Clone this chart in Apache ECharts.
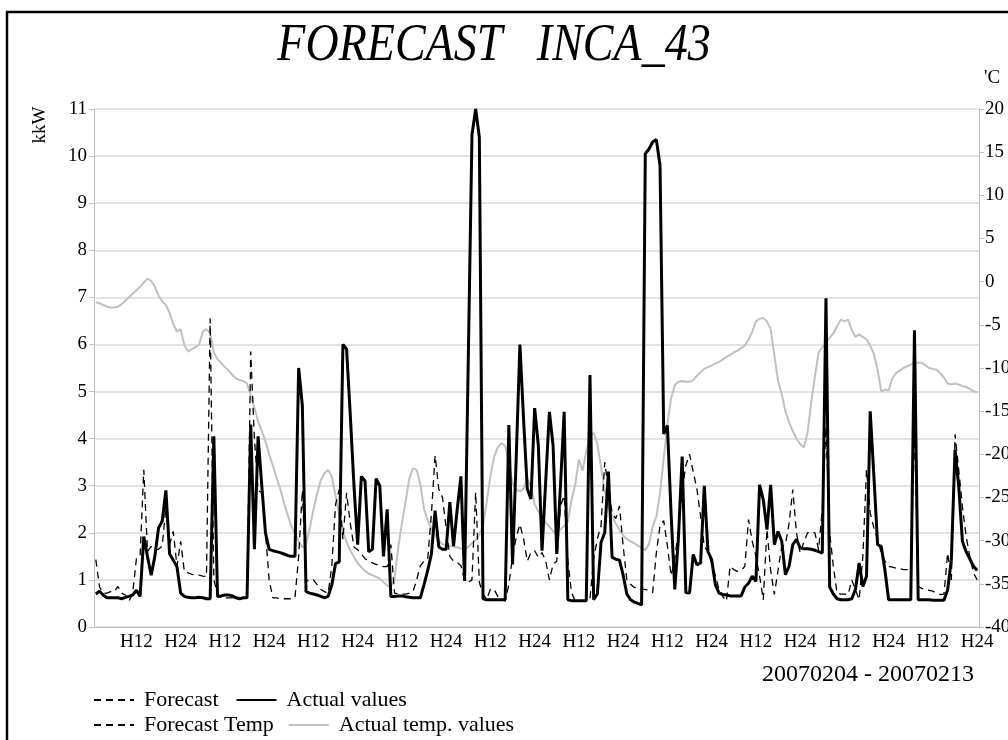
<!DOCTYPE html>
<html>
<head>
<meta charset="utf-8">
<script src="https://cdn.jsdelivr.net/npm/echarts@6/dist/echarts.min.js"></script>
<style>
html,body{margin:0;padding:0;background:#fff;overflow:hidden;}
#chart{width:1008px;height:740px;}
</style>
</head>
<body>
<div id="chart"></div>
<script>
// hourly categories, 10 days x 24 hours
const days = 10;
const categories = [];
for (let d = 0; d < days; d++) for (let h = 1; h <= 24; h++) categories.push('H' + h);

const titleText = 'FORECAST   INCA_43';
const dateRange = '20070204 - 20070213';
const leftAxisName = 'kkW';
const rightAxisName = "'C";
const seriesNames = ['Forecast', 'Actual values', 'Forecast Temp', 'Actual temp. values'];

// Actual values (kW), one row per day
const actualKW = [
  0.70,0.76,0.68,0.62,0.62,0.62,0.62,0.60,0.63,0.65,0.68,0.78,0.65,1.92,1.50,1.10,1.50,2.10,2.25,2.90,1.55,1.42,1.28,0.72,
  0.65,0.63,0.62,0.62,0.63,0.62,0.60,0.60,4.05,0.65,0.66,0.68,0.68,0.66,0.62,0.60,0.62,0.62,4.30,1.65,4.05,3.00,2.00,1.65,
  1.62,1.60,1.58,1.55,1.52,1.50,1.50,5.50,4.70,0.75,0.72,0.70,0.68,0.65,0.62,0.65,0.90,1.35,1.38,6.00,5.90,4.50,3.00,1.75,
  3.20,3.10,1.60,1.65,3.15,3.00,1.50,2.50,0.65,0.65,0.66,0.66,0.64,0.63,0.62,0.62,0.62,0.90,1.20,1.55,2.47,1.70,1.65,1.65,
  2.65,1.72,2.50,3.20,0.98,5.70,10.45,11.00,10.40,0.60,0.58,0.58,0.58,0.58,0.58,0.58,4.29,1.33,3.60,6.00,4.40,2.93,2.72,4.65,
  3.85,1.62,3.10,4.57,3.85,1.55,3.00,4.57,0.58,0.56,0.56,0.56,0.56,0.56,5.35,0.58,0.70,1.80,2.00,3.30,1.48,1.44,1.42,1.10,
  0.70,0.58,0.53,0.50,0.47,10.05,10.15,10.30,10.35,9.80,4.10,4.28,2.40,0.80,1.90,3.62,0.73,0.72,1.54,1.32,1.36,3.00,1.60,1.43,
  0.90,0.72,0.69,0.68,0.66,0.66,0.66,0.66,0.85,0.93,1.08,0.97,3.02,2.70,2.07,3.02,1.75,2.03,1.82,1.11,1.29,1.75,1.86,1.68,
  1.66,1.66,1.65,1.63,1.60,1.57,6.98,0.85,0.70,0.60,0.58,0.58,0.58,0.60,0.80,1.36,0.86,1.08,4.58,3.20,1.75,1.71,1.20,0.58,
  0.58,0.58,0.58,0.58,0.58,0.58,6.30,0.58,0.58,0.58,0.58,0.57,0.57,0.57,0.57,0.79,1.43,3.77,2.99,1.82,1.60,1.45,1.29,1.20
];

// Forecast (kW)
const forecastKW = [
  1.43,0.85,0.72,0.72,0.75,0.75,0.86,0.72,0.68,0.55,0.72,1.45,1.50,3.34,1.60,1.71,1.64,1.65,1.72,2.55,1.75,2.03,1.29,1.82,
  1.18,1.15,1.12,1.10,1.10,1.08,1.07,6.55,1.00,0.70,0.62,0.62,0.62,0.62,0.60,0.62,0.62,0.62,5.85,4.00,2.90,2.85,2.00,1.00,
  0.62,0.62,0.60,0.60,0.60,0.60,0.62,1.50,2.90,1.00,0.97,1.00,0.90,0.80,0.75,0.72,1.30,2.60,2.92,1.86,2.85,2.20,1.70,1.64,
  1.55,1.45,1.40,1.36,1.33,1.30,1.28,1.28,1.75,0.72,0.70,0.70,0.70,0.72,0.75,1.00,1.30,1.40,1.45,2.40,3.64,2.93,2.75,2.10,
  1.50,1.40,1.37,1.30,1.00,0.95,1.00,2.86,0.95,0.70,0.59,0.80,0.80,0.65,0.59,0.55,0.90,1.50,1.90,2.18,1.87,1.40,1.58,1.62,
  1.48,1.58,1.40,1.00,1.33,1.40,2.57,2.79,1.40,0.73,0.55,0.55,0.55,0.55,0.60,1.44,1.87,2.15,3.50,2.93,2.43,2.30,2.57,1.72,
  1.00,0.91,0.84,0.82,0.80,0.80,0.77,0.73,1.58,2.15,2.26,1.72,1.09,1.44,2.08,2.90,3.43,3.67,3.30,2.93,2.35,1.71,1.60,1.35,
  1.10,0.79,0.65,0.55,1.29,1.22,1.18,1.20,1.29,2.28,1.82,1.50,1.08,0.58,2.07,1.20,0.69,1.20,1.71,1.75,2.20,2.92,2.00,1.57,
  1.80,2.00,2.03,2.00,1.64,2.50,4.26,2.00,1.29,0.72,0.70,0.70,0.69,1.00,0.79,0.58,1.50,3.34,2.42,2.10,1.86,1.57,1.40,1.29,
  1.27,1.25,1.24,1.22,1.22,1.22,4.26,0.86,0.82,0.79,0.78,0.76,0.72,0.69,0.70,1.57,1.00,4.09,3.34,2.56,1.93,1.50,1.15,1.00
];

// Actual temperature ('C)
const actualTemp = [
  -2.4,-2.5,-2.7,-2.9,-3.0,-3.0,-2.9,-2.6,-2.2,-1.8,-1.4,-1.0,-0.6,-0.1,0.35,0.1,-0.6,-1.6,-2.3,-2.7,-3.6,-4.9,-5.8,-5.5,
  -7.4,-8.1,-7.8,-7.6,-7.3,-5.8,-5.5,-6.0,-8.2,-9.0,-9.4,-9.9,-10.3,-10.8,-11.2,-11.4,-11.5,-11.8,-13.2,-14.6,-16.2,-17.3,-18.5,-20.0,
  -21.3,-22.7,-24.0,-25.6,-27.0,-28.3,-29.2,-30.0,-30.8,-30.4,-28.6,-26.4,-24.6,-23.0,-22.2,-21.8,-22.6,-24.8,-27.0,-28.9,-30.2,-31.1,-31.9,-32.6,
  -33.1,-33.5,-33.8,-34.0,-34.2,-34.4,-34.8,-35.2,-35.3,-34.4,-30.8,-28.0,-25.5,-22.8,-21.6,-21.8,-23.5,-26.3,-27.7,-28.6,-29.3,-30.0,-30.4,-30.5,
  -30.6,-30.7,-30.8,-30.9,-31.1,-30.7,-30.3,-29.9,-29.3,-28.3,-25.5,-22.5,-20.3,-19.2,-18.7,-19.0,-21.0,-23.3,-24.1,-24.3,-24.0,-22.8,-23.8,-25.8,
  -26.6,-27.3,-27.9,-28.4,-28.9,-29.3,-28.7,-28.3,-27.8,-25.3,-23.5,-20.6,-21.9,-19.6,-18.0,-17.5,-18.8,-21.5,-24.2,-26.0,-27.2,-28.0,-28.8,-29.4,
  -29.8,-30.1,-30.3,-30.6,-30.8,-31.1,-30.4,-28.4,-27.2,-24.5,-20.5,-16.5,-13.5,-12.0,-11.6,-11.5,-11.6,-11.6,-11.4,-10.9,-10.5,-10.1,-9.9,-9.7,
  -9.5,-9.3,-9.0,-8.7,-8.5,-8.2,-8.0,-7.7,-7.4,-6.7,-5.8,-4.6,-4.3,-4.2,-4.6,-5.5,-8.5,-11.5,-13.0,-15.0,-16.3,-17.3,-18.2,-18.8,
  -19.2,-17.5,-14.0,-11.0,-8.2,-7.6,-7.1,-6.5,-6.0,-5.2,-4.4,-4.6,-4.4,-5.6,-6.4,-6.1,-6.4,-6.7,-7.4,-8.4,-10.2,-12.7,-12.5,-12.6,
  -11.2,-10.6,-10.3,-10.0,-9.8,-9.6,-9.4,-9.4,-9.4,-9.7,-10.0,-10.1,-10.2,-10.6,-11.1,-11.8,-11.9,-11.8,-11.9,-12.1,-12.2,-12.4,-12.7,-12.8
];

// Forecast temperature: no values drawn in the reference
const forecastTemp = [];

const leftTicks = {min: 0, max: 11, interval: 1};
const rightTicks = {min: -40, max: 20, interval: 5};

const FONT = "'Liberation Serif','Times New Roman',serif";
const chart = echarts.init(document.getElementById('chart'), null, {renderer: 'canvas'});

const legendText = {fontFamily: FONT, fontSize: 22, color: '#000', padding: [0, 0, 0, 5]};
const legendCommon = {orient: 'horizontal', itemWidth: 40, itemHeight: 14, textStyle: legendText,
  selectedMode: false, itemStyle: {opacity: 0}, padding: 0};

chart.setOption({
  animation: false,
  backgroundColor: '#fff',
  grid: {left: 94, right: 29, top: 109, bottom: 113, containLabel: false, outerBoundsMode: 'none'},
  legend: [
    Object.assign({data: [seriesNames[0], seriesNames[1]], left: 93, top: 689, itemGap: 17}, legendCommon),
    Object.assign({data: [seriesNames[2], seriesNames[3]], left: 93, top: 714, itemGap: 14}, legendCommon)
  ],
  xAxis: {
    type: 'category', data: categories, boundaryGap: true,
    axisLine: {lineStyle: {color: '#bfbfbf', width: 1}},
    axisTick: {interval: (i) => i % 4 === 0, length: 5, lineStyle: {color: '#bfbfbf'}},
    axisLabel: {interval: (i) => (i + 1) % 12 === 0, fontFamily: FONT, fontSize: 19, color: '#000', margin: 6},
    splitLine: {show: false}
  },
  yAxis: [
    {type: 'value', min: leftTicks.min, max: leftTicks.max, interval: leftTicks.interval,
     axisLine: {show: true, lineStyle: {color: '#bfbfbf'}},
     axisTick: {show: true, length: 5, lineStyle: {color: '#bfbfbf'}},
     axisLabel: {fontFamily: FONT, fontSize: 19, color: '#000', margin: 7},
     splitLine: {show: true, lineStyle: {color: '#d9d9d9', width: 1.5}}},
    {type: 'value', position: 'right', min: rightTicks.min, max: rightTicks.max, interval: rightTicks.interval,
     axisLine: {show: true, lineStyle: {color: '#bfbfbf'}},
     axisTick: {show: true, length: 5, lineStyle: {color: '#bfbfbf'}},
     axisLabel: {fontFamily: FONT, fontSize: 19, color: '#000', margin: 6},
     splitLine: {show: false}}
  ],
  series: [
    {name: seriesNames[3], type: 'line', yAxisIndex: 1, data: actualTemp, symbol: 'none', z: 1,
     lineStyle: {color: '#c0c0c0', width: 2}, itemStyle: {color: '#c0c0c0'}},
    {name: seriesNames[2], type: 'line', yAxisIndex: 1, data: forecastTemp, symbol: 'none', z: 2,
     lineStyle: {color: '#000', width: 1.3, type: [7, 5]}, itemStyle: {color: '#000'}},
    {name: seriesNames[0], type: 'line', yAxisIndex: 0, data: forecastKW, symbol: 'none', z: 3,
     lineStyle: {color: '#000', width: 1.3, type: [7, 5]}, itemStyle: {color: '#000'}},
    {name: seriesNames[1], type: 'line', yAxisIndex: 0, data: actualKW, symbol: 'none', z: 4,
     lineStyle: {color: '#000', width: 3}, itemStyle: {color: '#000'}}
  ],
  graphic: [
    {type: 'rect', shape: {x: 7, y: 12, width: 1020, height: 760}, style: {fill: 'none', stroke: '#000', lineWidth: 2.5}, silent: true},
    {type: 'text', x: 494, y: 46, scaleX: 0.885, style: {text: titleText, font: "italic 52px 'Liberation Serif', serif", fill: '#000', textAlign: 'center', textVerticalAlign: 'middle'}},
    {type: 'text', x: 40, y: 125, rotation: Math.PI / 2, style: {text: leftAxisName, font: "19px 'Liberation Serif', serif", fill: '#000', textAlign: 'center', textVerticalAlign: 'middle'}},
    {type: 'text', x: 992, y: 78, style: {text: rightAxisName, font: "19px 'Liberation Serif', serif", fill: '#000', textAlign: 'center', textVerticalAlign: 'middle'}},
    {type: 'text', x: 974, y: 675, style: {text: dateRange, font: "24px 'Liberation Serif', serif", fill: '#000', textAlign: 'right', textVerticalAlign: 'middle'}}
  ]
});
</script>
</body>
</html>
